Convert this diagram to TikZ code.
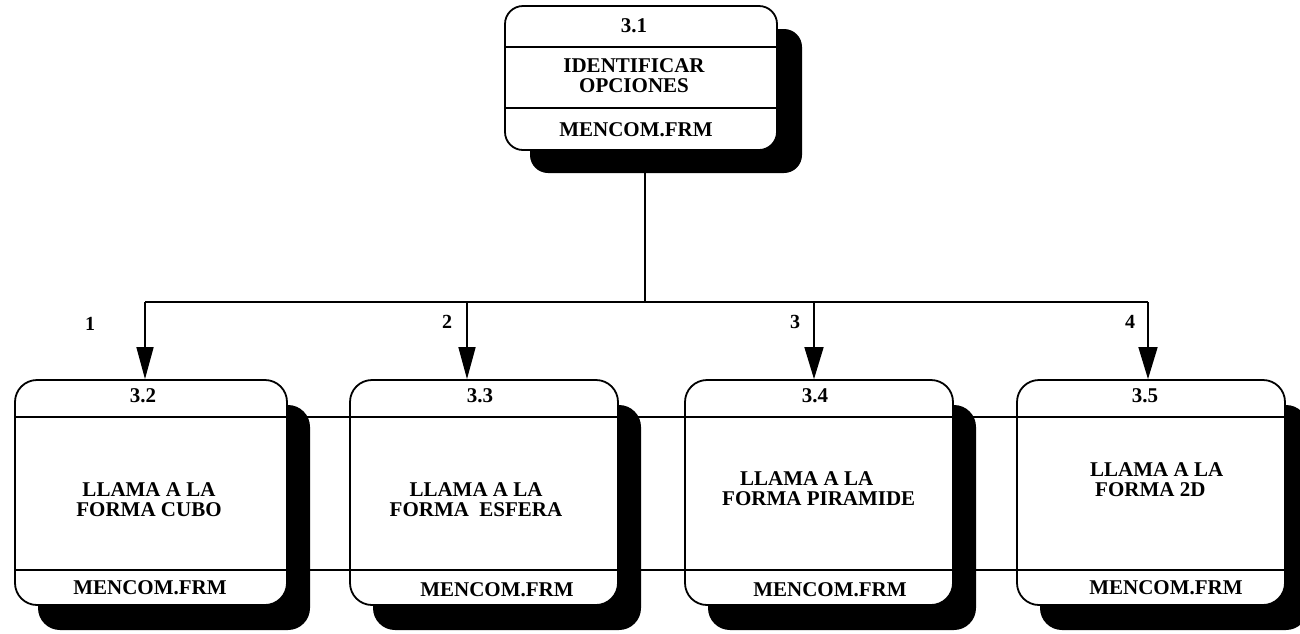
\documentclass[tikz,border=0pt]{standalone}
\usepackage{fontspec}
\setmainfont{Liberation Serif}
\usetikzlibrary{shadows,arrows.meta}
\begin{document}
\begin{tikzpicture}[x=1pt,y=-1pt,
 proc/.style={draw, line width=1.8pt, fill=white, rectangle, rounded corners=22pt,
   minimum height=225pt, general shadow={fill=black, shadow xshift=23pt, shadow yshift=-25pt}},
 txt/.style={font=\fontsize{21}{20}\selectfont\bfseries, inner sep=0pt, align=center},
 lbl/.style={font=\fontsize{20}{20}\selectfont\bfseries, inner sep=0pt},
 div/.style={line width=1.6pt},
 conn/.style={line width=1.6pt},
 arr/.style={conn, -{Triangle[length=32pt,width=17pt]}},
 arrb/.style={conn, -{Triangle[length=32pt,width=19pt]}}
]
\useasboundingbox (0,0) rectangle (1300,633);
\fill[white] (0,0) rectangle (1300,633);

% top process
\node[draw, line width=1.8pt, fill=white, rectangle, rounded corners=18pt,
  minimum width=272pt, minimum height=144pt,
  general shadow={fill=black, shadow xshift=25pt, shadow yshift=-23pt}] (b31) at (641,78) {};
\draw[div] (b31.west |- 0,47) -- (b31.east |- 0,47);
\draw[div] (b31.west |- 0,108) -- (b31.east |- 0,108);
\node[txt] (t31n) at (634,26) {3.1};
\node[txt] (t31m) at (634,76) {IDENTIFICAR\\OPCIONES};
\node[txt] (t31f) at (636,130) {MENCOM.FRM};

% bottom processes
\node[proc, minimum width=272pt] (b32) at (151,492.5) {};
\node[proc, minimum width=268pt] (b33) at (484,492.5) {};
\node[proc, minimum width=268pt] (b34) at (819,492.5) {};
\node[proc, minimum width=268pt] (b35) at (1151,492.5) {};

% long dividers
\draw[div] (b32.west |- 0,417) -- (b35.east |- 0,417);
\draw[div] (b32.west |- 0,570) -- (b35.east |- 0,570);

% texts
\node[txt] (t32n) at (143,396) {3.2};
\node[txt] (t32m) at (149,500) {LLAMA A LA\\FORMA CUBO};
\node[txt] (t32f) at (150,588) {MENCOM.FRM};

\node[txt] (t33n) at (480,396) {3.3};
\node[txt] (t33m) at (476,500) {LLAMA A LA\\FORMA\ \ ESFERA};
\node[txt] (t33f) at (497,590) {MENCOM.FRM};

\node[txt] (t34n) at (815,396) {3.4};
\node[txt, align=left, anchor=west] (t34m) at (722,489) {\hspace*{18pt}LLAMA A LA\\FORMA PIRAMIDE};
\node[txt] (t34f) at (830,590) {MENCOM.FRM};

\node[txt] (t35n) at (1145,396) {3.5};
\node[txt, align=left, anchor=west] (t35m) at (1090,480) {LLAMA A LA\\\hspace*{5pt}FORMA 2D};
\node[txt] (t35f) at (1166,588) {MENCOM.FRM};

% connectors
\coordinate (hub) at (645,302);
\coordinate (j1) at (145,302);
\coordinate (j2) at (467,302);
\coordinate (j3) at (814,302);
\coordinate (j4) at (1148,302);
\draw[conn] (b31.south -| hub) -- (hub);
\draw[conn] (j1) -- (j4);
\draw[arr] (j1) -- (j1 |- b32.north);
\draw[arr] (j2) -- (j2 |- b33.north);
\draw[arrb] (j3) -- (j3 |- b34.north);
\draw[arrb] (j4) -- (j4 |- b35.north);

\node[lbl] (l1) at (90,324) {1};
\node[lbl] (l2) at (447,322) {2};
\node[lbl] (l3) at (795,322) {3};
\node[lbl] (l4) at (1130,322) {4};
\end{tikzpicture}
\end{document}
